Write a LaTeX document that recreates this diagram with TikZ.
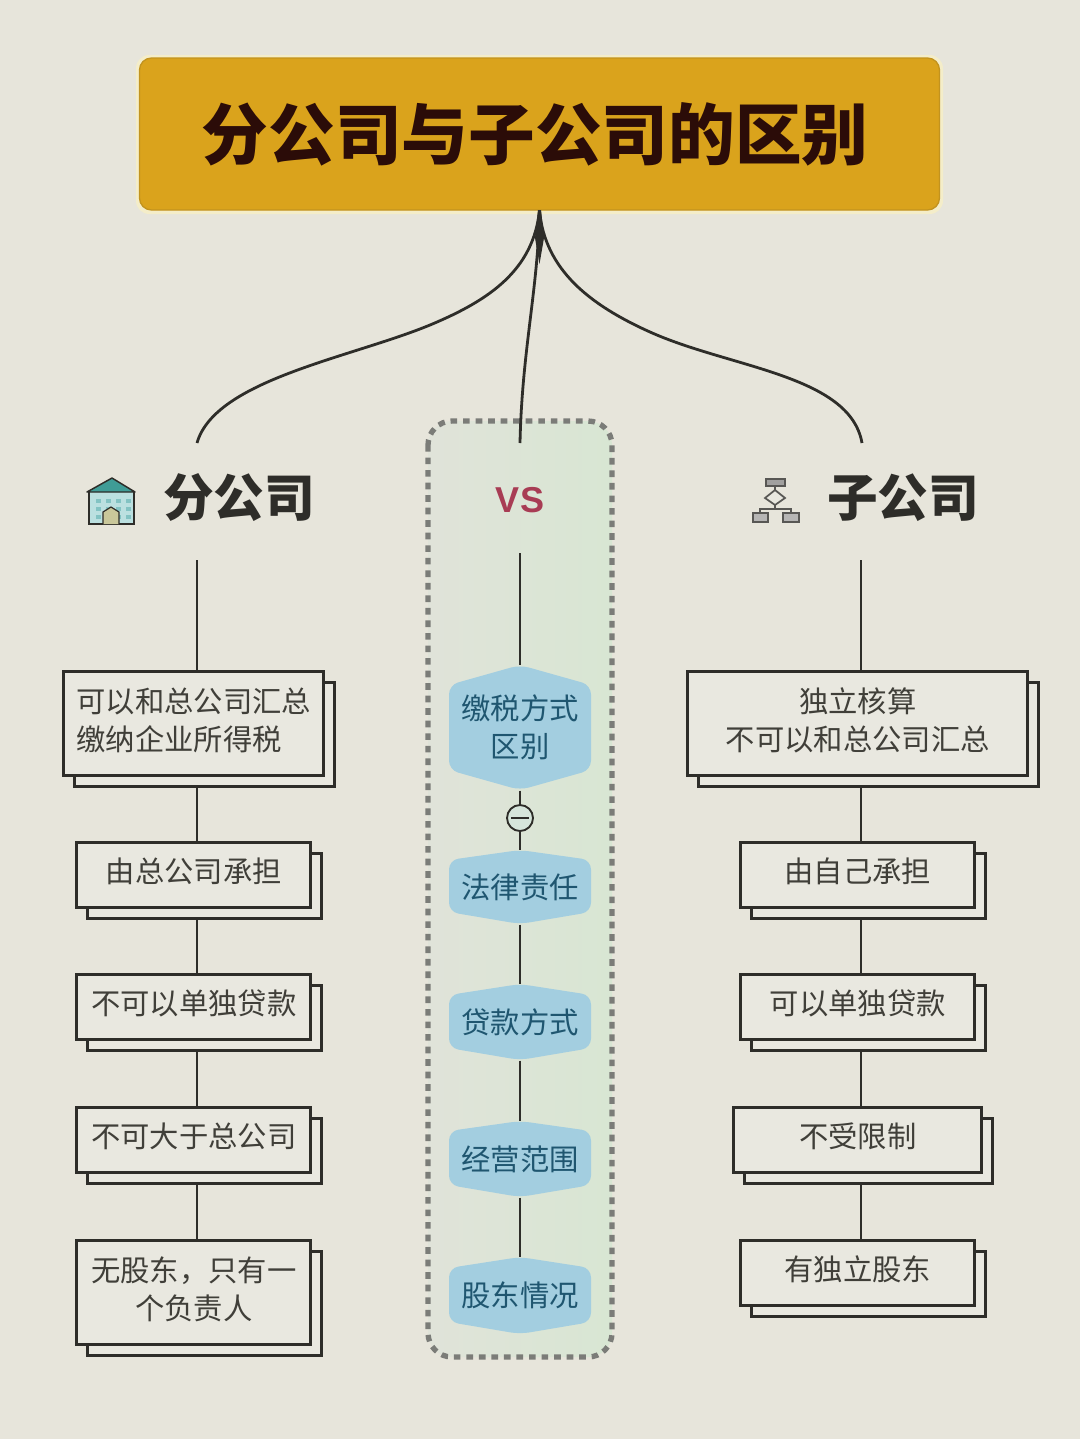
\documentclass[tikz,border=0pt]{standalone}
\usepackage{fontspec}
\newfontfamily\cjk{Noto Sans CJK SC}
\newfontfamily\latinb{Liberation Sans}
\usetikzlibrary{shadows}
\definecolor{paper}{HTML}{E7E5DB}
\definecolor{gold}{HTML}{DAA31C}
\definecolor{golddark}{HTML}{C2931E}
\definecolor{cream}{HTML}{F4EDC9}
\definecolor{ink}{HTML}{2E2D29}
\definecolor{maroon}{HTML}{2B0C08}
\definecolor{boxink}{HTML}{403F39}
\definecolor{boxfill}{HTML}{E9E8E0}
\definecolor{hexblue}{HTML}{A3CEE0}
\definecolor{hexink}{HTML}{1F5670}
\definecolor{panelL}{HTML}{E0E3D9}
\definecolor{panelM}{HTML}{D6E5DB}
\definecolor{panelR}{HTML}{D8E6D3}
\definecolor{dots}{HTML}{7B7C78}
\definecolor{vsred}{HTML}{A83C54}
\definecolor{wall}{HTML}{BBE0E0}
\definecolor{roof}{HTML}{3F9C96}
\definecolor{doorc}{HTML}{C9C79A}
\tikzset{
  x=0.75pt,y=-0.75pt,
  conn/.style={draw=ink,line width=1.9pt},
  curveconn/.style={draw=ink,line width=2.1pt},
  card/.style={draw=ink,line width=2.6pt,fill=boxfill,inner sep=0pt,text=boxink,
    font=\cjk\fontsize{22}{28.5}\selectfont,align=center,
    copy shadow={shadow xshift=8pt,shadow yshift=-8pt,draw=ink,fill=boxfill,line width=2.3pt}},
  hexlabel/.style={inner sep=0pt,text=hexink,font=\cjk\fontsize{22}{28.5}\selectfont,align=center},
  heading/.style={inner sep=0pt,text=ink,font=\cjk\bfseries\fontsize{38}{40}\selectfont},
}
% \cardnode{name}{left}{top}{right}{bottom}{text}
\newcommand{\cardnode}[6]{%
  \node[card,minimum width=#4*0.75pt-#2*0.75pt,minimum height=#5*0.75pt-#3*0.75pt,anchor=north west,xshift=-1.5pt,yshift=1.5pt] (#1) at (#2,#3) {\raisebox{2pt}{\begin{tabular}{@{}c@{}}#6\end{tabular}}};}
% \hexnode{name}{top}{shoulder}{bottom shoulder}{bottom}{text}
\newcommand{\hexnode}[6]{%
  \fill[hexblue,rounded corners=7pt] (520,#2)--(591,#3)--(591,#4)--(520,#5)--(449,#4)--(449,#3)--cycle;
  \node[hexlabel,minimum width=106pt,minimum height=#5*0.75pt-#2*0.75pt,anchor=north] (#1) at (520,#2) {#6};}
\begin{document}
\begin{tikzpicture}
\useasboundingbox (0,0) rectangle (1080,1439);
\fill[paper] (0,0) rectangle (1080,1439);

% VS panel
\draw[dots,line width=4pt,dash pattern=on 5pt off 4.4pt,left color=panelL,middle color=panelM,right color=panelR,rounded corners=18pt]
  (428,421) rectangle (612,1357);

% title
\fill[cream,rounded corners=10pt] (136,55) rectangle (943,214);
\node[draw=golddark,line width=1pt,fill=gold,rounded corners=9pt,minimum width=600pt,minimum height=114pt,inner sep=0pt,
  text=maroon,font=\cjk\bfseries\fontsize{50}{54}\selectfont] (title) at (539.5,134) {\raisebox{1.5pt}{分公司与子公司的区别}\kern6.75pt};

% headings
\node[heading] (hl) at (239,498) {分公司};
\node[heading] (hr) at (903,498) {子公司};
\node[inner sep=0pt,text=vsred,font=\latinb\bfseries\fontsize{27}{30}\selectfont] (vs) at (520,500) {VS};

\coordinate (topl) at (197,443);
\coordinate (topm) at (520,443);
\coordinate (topr) at (862,443);
\coordinate (stl) at (197,560);
\coordinate (stm) at (520,553);
\coordinate (str) at (861,560);

% left cards
\cardnode{la}{64}{672}{324}{776}{可以和总公司汇总\\缴纳企业所得税\kern22pt}
\cardnode{lb}{77}{843}{311}{908}{由总公司承担}
\cardnode{lc}{77}{975}{311}{1040}{不可以单独贷款}
\cardnode{ld}{77}{1108}{311}{1173}{不可大于总公司}
\cardnode{le}{77}{1241}{311}{1345}{无股东，只有一\\个负责人}
% right cards
\cardnode{ra}{688}{672}{1028}{776}{独立核算\\不可以和总公司汇总}
\cardnode{rb}{741}{843}{975}{908}{由自己承担}
\cardnode{rc}{741}{975}{975}{1040}{可以单独贷款}
\cardnode{rd}{734}{1108}{982}{1173}{不受限制}
\cardnode{re}{741}{1241}{975}{1306}{有独立股东}
% middle
\hexnode{ma}{665}{685}{770}{790}{缴税方式\\区别}
\hexnode{mb}{850}{860}{912}{924}{法律责任}
\hexnode{mc}{984}{995}{1048}{1060}{贷款方式}
\hexnode{md}{1121}{1131}{1185}{1197}{经营范围}
\hexnode{me}{1257}{1268}{1322}{1334}{股东情况}
\node[circle,draw=ink,line width=1.4pt,fill=panelM,minimum size=19.5pt,inner sep=0pt] (minus) at (520,818) {};
\draw[ink,line width=1.5pt] (511,818) -- (529,818);

% icon: house
\fill[wall] (90,492) rectangle (134,524);
\foreach \wy in {499,507,515}{\foreach \wx in {96,106,116,126}{\fill[wall!70!teal] (\wx,\wy) rectangle +(5,4);}}
\fill[roof] (87,492) -- (112,478) -- (135,492) -- cycle;
\draw[ink,line width=1.1pt,line join=round] (87,492) -- (112,478) -- (135,492) -- cycle;
\draw[ink,line width=1.1pt] (89,492) -- (89,524) -- (134,524) -- (134,492);
\fill[doorc] (103,524) -- (103,512) -- (111,507) -- (119,512) -- (119,524) -- cycle;
\draw[ink,line width=.9pt] (103,524) -- (103,512) -- (111,507) -- (119,512) -- (119,524);
% icon: flowchart
\begin{scope}[draw=ink!80,line width=1.3pt]
\draw[fill=ink!45] (766,479) rectangle (785,486);
\draw[fill=boxfill] (775,490) -- (785,498) -- (775,505) -- (765,498) -- cycle;
\draw (775,486) -- (775,490) (775,505) -- (775,509) (760,513) -- (760,509) -- (791,509) -- (791,513);
\draw[fill=ink!35] (753,513) rectangle (768,522);
\draw[fill=ink!35] (783,513) rectangle (799,522);
\end{scope}

% connectors
\fill[ink] (538,210) -- (541,210) -- (544,238) -- (539.5,264) -- (535,238) -- cycle;
\path[curveconn] (title.south) .. controls (533,270) and (490,300) .. (430,325) .. controls (350,358) and (215,380) .. (topl);
\path[curveconn] (title.south) .. controls (545,270) and (590,305) .. (650,332) .. controls (730,368) and (850,375) .. (topr);
\path[curveconn] (title.south) .. controls (538,290) and (522,350) .. (topm);
\path[conn] (stl) -- (stl |- la.north);
\path[conn] (stl |- la.south) ++(0,10) -- (stl |- lb.north);
\path[conn] (stl |- lb.south) ++(0,10) -- (stl |- lc.north);
\path[conn] (stl |- lc.south) ++(0,10) -- (stl |- ld.north);
\path[conn] (stl |- ld.south) ++(0,10) -- (stl |- le.north);
\path[conn] (str) -- (str |- ra.north);
\path[conn] (str |- ra.south) ++(0,10) -- (str |- rb.north);
\path[conn] (str |- rb.south) ++(0,10) -- (str |- rc.north);
\path[conn] (str |- rc.south) ++(0,10) -- (str |- rd.north);
\path[conn] (str |- rd.south) ++(0,10) -- (str |- re.north);
\path[conn] (stm) -- (ma.north);
\path[conn] (ma.south) -- (minus.north);
\path[conn] (minus.south) -- (mb.north);
\path[conn] (mb.south) -- (mc.north);
\path[conn] (mc.south) -- (md.north);
\path[conn] (md.south) -- (me.north);
\end{tikzpicture}
\end{document}
